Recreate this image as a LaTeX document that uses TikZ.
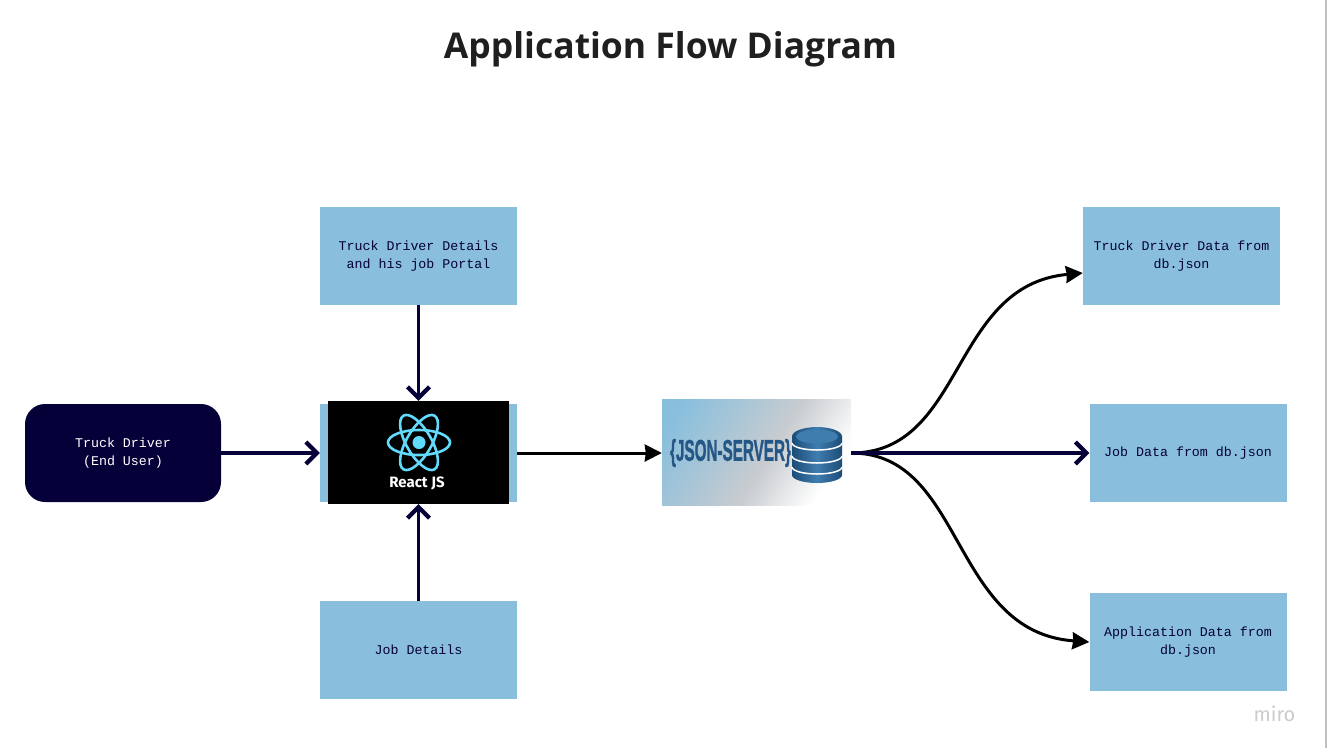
\documentclass[tikz,border=0pt]{standalone}
\usepackage{fontspec}
\setmainfont{Open Sans}
\newfontfamily\boxfont{Liberation Mono}
\newfontfamily\logofont{Fira Sans}
\newfontfamily\jsonfont[FakeBold=1.5]{Liberation Sans}
\usetikzlibrary{arrows.meta,shadings}
\definecolor{boxblue}{HTML}{89BFDD}
\definecolor{navy}{HTML}{050038}
\definecolor{dbblue}{HTML}{2A5F8F}
\definecolor{dbdark}{HTML}{1C4C78}
\definecolor{dblight}{HTML}{3F7DAF}
\definecolor{midgrey}{HTML}{C8CCD0}
\definecolor{reactcyan}{HTML}{61DAFB}
\pgfdeclarehorizontalshading{jsonshade}{100bp}{color(0bp)=(boxblue); color(22bp)=(boxblue); color(54bp)=(midgrey); color(74bp)=(white); color(100bp)=(white)}
\tikzset{
  infobox/.style={fill=boxblue,draw=none,minimum width=197pt,minimum height=98pt,inner sep=0pt,align=center,text=navy,
    font=\boxfont\fontsize{13.3}{18}\selectfont},
  navyflow/.style={draw=navy,line width=3.4pt,-{Straight Barb[length=11pt,width=22pt,line width=4.2pt]}},
  blackflow/.style={draw=black,line width=3pt,-{Stealth[length=17pt,width=17pt,inset=1pt]}},
  orbit/.style={draw=reactcyan,line width=2.6pt},
  dbshade/.style={left color=dbdark,right color=dbdark,middle color=dblight},
}
\begin{document}
\begin{tikzpicture}[x=1pt,y=-1pt]
\useasboundingbox (0,0) rectangle (1327,748);
\fill[white] (0,0) rectangle (1327,748);
\draw[draw=black!25,line width=1.5pt] (1326.2,0) -- (1326.2,748);
\node[font=\bfseries\fontsize{35.5}{40}\selectfont,text=black!88] (title) at (670.5,49.5) {Application Flow Diagram};
\node[fill=navy,rounded corners=20pt,minimum width=196pt,minimum height=98pt,inner sep=0pt,align=center,text=white,
  font=\boxfont\fontsize{13.3}{18}\selectfont] (driver) at (123,453) {Truck Driver\\(End User)};
\node[infobox] (details) at (418.5,256) {Truck Driver Details\\and his job Portal};
\node[infobox] (reactback) at (418.5,453) {};
\node[fill=black,minimum width=181pt,minimum height=103pt,inner sep=0pt] (react) at (418.5,452.5) {};
\node[infobox] (jobdetails) at (418.5,650) {Job Details};
\fill[reactcyan] (419,442.5) circle (6.5pt);
\foreach \a in {0,60,120}
  \draw[orbit,rotate around={\a:(419,442.5)}] (419,442.5) ellipse (31pt and 12.5pt);
\node[text=white,font=\logofont\bfseries\fontsize{15}{16}\selectfont] (reactlabel) at (417,483) {React JS};
\node[minimum width=189pt,minimum height=106pt,inner sep=0pt] (json) at (756.5,452) {};
\begin{scope}
\clip (662,399) rectangle (851,505);
\shade[shading=jsonshade,shading angle=-32] (662,399) rectangle (851,505);
\end{scope}
\node[text=dbblue!60!dbdark,inner sep=0pt,font=\jsonfont\bfseries\fontsize{25}{26}\selectfont] (jsonlabel) at (730.5,453)
  {\scalebox{0.61}[1.2]{\{JSON-SERVER\}}};
% database drum
\shade[dbshade] (792,436) -- (842,436) -- (842,475) arc[start angle=0,end angle=180,x radius=25pt,y radius=-8pt] -- cycle;
\shade[dbshade] (817,436.5) ellipse (25pt and 9.5pt);
\fill[dblight] (817,436.5) ellipse (21pt and 7pt);
\foreach \y in {443,456,467}
  \draw[white,line width=1.5pt] (792,\y) arc[start angle=180,end angle=360,x radius=25pt,y radius=7pt];
\node[infobox] (driverdata) at (1181.5,256) {Truck Driver Data from\\db.json};
\node[infobox] (jobdata) at (1188,453) {Job Data from db.json};
\node[infobox] (appdata) at (1188,642) {Application Data from\\db.json};
\node[text=black!20,font=\logofont\fontsize{20}{20}\selectfont] (miro) at (1274.5,714) {miro};
\coordinate (hub) at (json.east |- jobdata.west);
\draw[navyflow] (driver.east) -- (reactback.west);
\draw[navyflow] (details.south) -- (react.north);
\draw[navyflow] (jobdetails.north) -- (react.south);
\draw[blackflow] (reactback.east) -- (reactback.east -| json.west);
\draw[blackflow] (hub) .. controls (965,453) and (950,285) .. (driverdata.west |- 0,273);
\draw[blackflow] (hub) .. controls (965,453) and (950,632) .. (appdata.west |- 0,642);
\draw[navyflow] (hub) -- (jobdata.west);
\end{tikzpicture}
\end{document}
